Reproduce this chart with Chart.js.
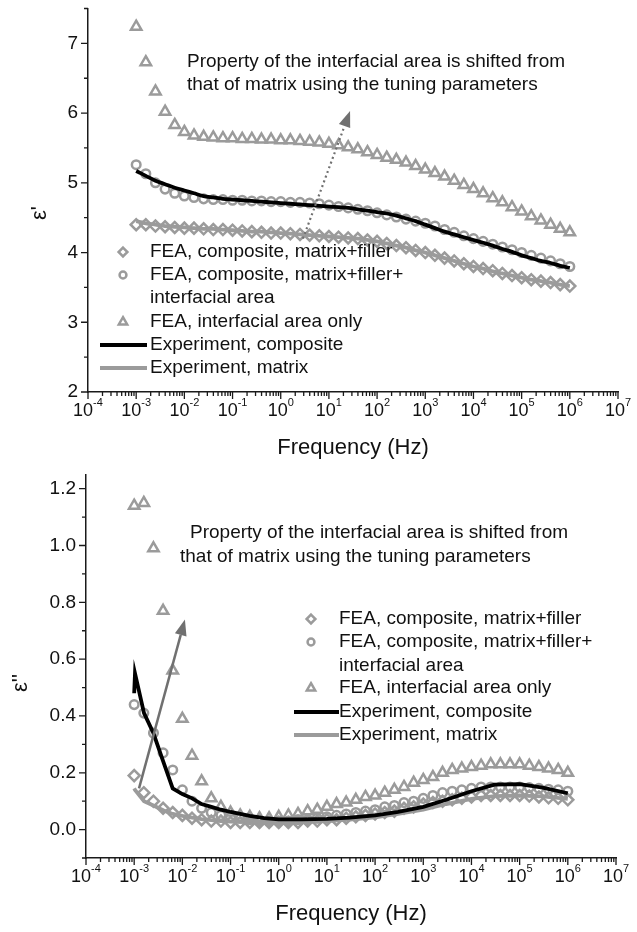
<!DOCTYPE html>
<html>
<head>
<meta charset="utf-8">
<script src="https://cdn.jsdelivr.net/npm/chart.js@4.4.1/dist/chart.umd.min.js"></script>
<style>
  body { margin: 0; background: #fff; }
  canvas { position: absolute; left: 0; }
</style>
</head>
<body>
<canvas id="realPart" width="637" height="466" style="top:0"></canvas>
<canvas id="lossPart" width="637" height="466" style="top:466px"></canvas>
<script>
// frequencies of the FEA points (Hz), five per decade
const feaFreq = [0.001, 0.001585, 0.002512, 0.003981, 0.00631, 0.01, 0.01585, 0.02512, 0.03981, 0.0631,
  0.1, 0.1585, 0.2512, 0.3981, 0.631, 1, 1.585, 2.512, 3.981, 6.31,
  10, 15.85, 25.12, 39.81, 63.1, 100, 158.5, 251.2, 398.1, 631,
  1000, 1585, 2512, 3981, 6310, 10000, 15850, 25120, 39810, 63100,
  100000, 158500, 251200, 398100, 631000, 1000000];

// epsilon' (upper panel)
const topDiamond = [4.40, 4.40, 4.38, 4.37, 4.36, 4.35, 4.35, 4.34, 4.33, 4.33,
  4.32, 4.31, 4.30, 4.29, 4.28, 4.28, 4.27, 4.26, 4.25, 4.24,
  4.23, 4.22, 4.21, 4.20, 4.18, 4.16, 4.13, 4.10, 4.07, 4.03,
  4.00, 3.96, 3.92, 3.88, 3.84, 3.80, 3.77, 3.74, 3.70, 3.67,
  3.64, 3.61, 3.59, 3.57, 3.54, 3.52];
const topCircle = [5.26, 5.13, 5.00, 4.91, 4.85, 4.81, 4.79, 4.77, 4.76, 4.76,
  4.75, 4.75, 4.74, 4.74, 4.73, 4.73, 4.72, 4.72, 4.71, 4.70,
  4.68, 4.66, 4.64, 4.62, 4.60, 4.57, 4.54, 4.51, 4.48, 4.45,
  4.42, 4.38, 4.33, 4.29, 4.24, 4.20, 4.16, 4.12, 4.08, 4.04,
  4.00, 3.96, 3.92, 3.88, 3.84, 3.80];
const topTriangle = [7.24, 6.73, 6.31, 6.02, 5.83, 5.73, 5.68, 5.66, 5.65, 5.64,
  5.64, 5.63, 5.63, 5.62, 5.62, 5.61, 5.61, 5.60, 5.59, 5.58,
  5.56, 5.54, 5.51, 5.48, 5.44, 5.40, 5.36, 5.33, 5.29, 5.24,
  5.19, 5.14, 5.09, 5.03, 4.97, 4.91, 4.85, 4.78, 4.72, 4.65,
  4.59, 4.52, 4.46, 4.40, 4.34, 4.29];
const topExpComposite = [5.17, 5.10, 5.03, 4.98, 4.93, 4.89, 4.85, 4.81, 4.79, 4.77,
  4.76, 4.75, 4.74, 4.73, 4.72, 4.71, 4.70, 4.69, 4.68, 4.67,
  4.66, 4.65, 4.64, 4.62, 4.60, 4.58, 4.56, 4.53, 4.49, 4.45,
  4.40, 4.35, 4.30, 4.26, 4.22, 4.18, 4.14, 4.10, 4.05, 4.01,
  3.96, 3.92, 3.88, 3.85, 3.81, 3.78];
const topExpMatrix = [4.45, 4.42, 4.40, 4.38, 4.37, 4.36, 4.35, 4.34, 4.34, 4.33,
  4.32, 4.31, 4.30, 4.30, 4.29, 4.28, 4.27, 4.26, 4.25, 4.24,
  4.23, 4.22, 4.21, 4.20, 4.18, 4.16, 4.13, 4.10, 4.07, 4.03,
  4.00, 3.96, 3.92, 3.88, 3.84, 3.80, 3.77, 3.73, 3.70, 3.67,
  3.64, 3.61, 3.59, 3.57, 3.54, 3.52];

// epsilon'' (lower panel)
const botDiamond = [0.19, 0.13, 0.10, 0.075, 0.06, 0.05, 0.04, 0.035, 0.03, 0.03,
  0.025, 0.025, 0.025, 0.025, 0.025, 0.025, 0.025, 0.025, 0.03, 0.03,
  0.035, 0.035, 0.04, 0.045, 0.05, 0.055, 0.06, 0.065, 0.075, 0.08,
  0.09, 0.095, 0.10, 0.105, 0.11, 0.115, 0.12, 0.12, 0.12, 0.12,
  0.12, 0.118, 0.115, 0.112, 0.11, 0.105];
const botCircle = [0.44, 0.41, 0.34, 0.27, 0.21, 0.14, 0.10, 0.075, 0.06, 0.05,
  0.045, 0.04, 0.035, 0.03, 0.03, 0.03, 0.03, 0.035, 0.035, 0.04,
  0.045, 0.05, 0.055, 0.06, 0.065, 0.07, 0.08, 0.085, 0.095, 0.10,
  0.11, 0.12, 0.13, 0.135, 0.14, 0.145, 0.15, 0.15, 0.15, 0.15,
  0.15, 0.148, 0.145, 0.142, 0.14, 0.135];
const botTriangle = [1.14, 1.15, 0.99, 0.77, 0.56, 0.39, 0.26, 0.17, 0.11, 0.08,
  0.06, 0.05, 0.045, 0.04, 0.04, 0.045, 0.05, 0.055, 0.065, 0.07,
  0.08, 0.09, 0.095, 0.105, 0.115, 0.12, 0.13, 0.14, 0.15, 0.165,
  0.175, 0.185, 0.20, 0.21, 0.215, 0.22, 0.225, 0.23, 0.23, 0.23,
  0.23, 0.225, 0.22, 0.215, 0.21, 0.20];
const botExpFreq = [0.001, 0.00104, 0.0016, 0.0025, 0.004, 0.0063, 0.01, 0.016, 0.025, 0.04,
  0.063, 0.1, 0.25, 0.5, 1, 3, 10, 30, 100, 300,
  1000, 3000, 10000, 30000, 100000, 300000, 1000000];
const botExpComposite = [0.48, 0.55, 0.41, 0.34, 0.24, 0.145, 0.125, 0.11, 0.09, 0.08,
  0.07, 0.062, 0.048, 0.04, 0.036, 0.036, 0.038, 0.042, 0.05, 0.062,
  0.08, 0.105, 0.135, 0.158, 0.16, 0.148, 0.128];
const botExpMatrix = [0.145, 0.14, 0.10, 0.085, 0.068, 0.055, 0.048, 0.042, 0.037, 0.033,
  0.03, 0.028, 0.026, 0.025, 0.025, 0.026, 0.03, 0.035, 0.043, 0.055,
  0.07, 0.09, 0.108, 0.118, 0.12, 0.117, 0.108];

// axis ticks
const xDecades = [-4, -3, -2, -1, 0, 1, 2, 3, 4, 5, 6, 7];
const topYTicks = [2, 3, 4, 5, 6, 7];
const topYMinor = [2.5, 3.5, 4.5, 5.5, 6.5, 7.5];
const botYTicks = [0.0, 0.2, 0.4, 0.6, 0.8, 1.0, 1.2];
const botYMinor = [-0.1, 0.1, 0.3, 0.5, 0.7, 0.9, 1.1];

const noteLines = ["Property of the interfacial area is shifted from",
  "that of matrix using the tuning parameters"];
const legendLabels = [["FEA, composite, matrix+filler"],
  ["FEA, composite, matrix+filler+", "interfacial area"],
  ["FEA, interfacial area only"],
  ["Experiment, composite"],
  ["Experiment, matrix"]];

const FONT = "'Liberation Sans', Arial, sans-serif";
const GREY = "#9b9b9b";
const INK = "#111";

function pts(xs, ys) {
  return xs.map((x, i) => ({ x: x, y: ys[i] }));
}

function markerPath(ctx, style, x, y, r) {
  ctx.beginPath();
  if (style === "rectRot") {
    ctx.moveTo(x, y - r); ctx.lineTo(x + r, y); ctx.lineTo(x, y + r); ctx.lineTo(x - r, y); ctx.closePath();
  } else if (style === "triangle") {
    ctx.moveTo(x, y - r); ctx.lineTo(x + r * 0.87, y + r * 0.5); ctx.lineTo(x - r * 0.87, y + r * 0.5); ctx.closePath();
  } else {
    ctx.arc(x, y, r, 0, Math.PI * 2);
  }
  ctx.stroke();
}

// ticks, tick labels, y title, note, legend and arrow
const frame = {
  id: "frame",
  afterDatasetsDraw(chart, args, o) {
    const { ctx, chartArea: a } = chart;
    const xs = chart.scales.x, ys = chart.scales.y;
    ctx.save();

    ctx.strokeStyle = "#1a1a1a";
    ctx.lineWidth = 1.3;
    ctx.beginPath();
    xDecades.forEach(k => {
      const px = xs.getPixelForValue(Math.pow(10, k));
      ctx.moveTo(px, a.bottom); ctx.lineTo(px, a.bottom + 7);
      if (k < 7) {
        for (let m = 2; m <= 9; m++) {
          const q = xs.getPixelForValue(m * Math.pow(10, k));
          ctx.moveTo(q, a.bottom); ctx.lineTo(q, a.bottom + 4);
        }
      }
    });
    o.yMajor.forEach(v => {
      const py = ys.getPixelForValue(v);
      ctx.moveTo(a.left, py); ctx.lineTo(a.left - 7, py);
    });
    o.yMinor.forEach(v => {
      const py = ys.getPixelForValue(v);
      ctx.moveTo(a.left, py); ctx.lineTo(a.left - 4, py);
    });
    ctx.stroke();

    ctx.fillStyle = INK;
    ctx.textBaseline = "middle";
    xDecades.forEach(k => {
      const px = xs.getPixelForValue(Math.pow(10, k));
      ctx.font = "18px " + FONT;
      const w1 = ctx.measureText("10").width;
      ctx.font = "11px " + FONT;
      const e = String(k);
      const w2 = ctx.measureText(e).width;
      const x0 = px - (w1 + w2) / 2;
      ctx.textAlign = "left";
      ctx.font = "18px " + FONT;
      ctx.fillText("10", x0, a.bottom + 19);
      ctx.font = "11px " + FONT;
      ctx.fillText(e, x0 + w1, a.bottom + 11);
    });
    ctx.font = "19px " + FONT;
    ctx.textAlign = "right";
    o.yMajor.forEach(v => {
      ctx.fillText(o.yFmt(v), a.left - 10, ys.getPixelForValue(v));
    });

    // y title
    ctx.save();
    ctx.translate(o.yTitle.x, o.yTitle.y);
    ctx.rotate(-Math.PI / 2);
    ctx.textAlign = "center";
    ctx.font = "22px " + FONT;
    ctx.fillText(o.yTitle.text, 0, 0);
    ctx.restore();

    // note
    ctx.textAlign = "left";
    ctx.font = "19px " + FONT;
    noteLines.forEach((t, i) => ctx.fillText(t, o.note.x[i], o.note.y[i]));

    // legend
    const L = o.legend;
    let row = 0;
    legendLabels.forEach((lines, i) => {
      const set = chart.data.datasets[L.sets[i]];
      const y = L.rows[row];
      ctx.strokeStyle = set.borderColor;
      ctx.lineWidth = set.borderWidth;
      if (set.showLine) {
        ctx.beginPath(); ctx.moveTo(L.lineX1, y); ctx.lineTo(L.lineX2, y); ctx.stroke();
      } else {
        markerPath(ctx, set.pointStyle, L.markerX, y, set.pointRadius * 0.8);
      }
      ctx.fillStyle = INK;
      lines.forEach(t => { ctx.fillText(t, L.textX, L.rows[row]); row++; });
    });

    // arrow
    const A = o.arrow;
    const x1 = xs.getPixelForValue(A.from[0]), y1 = ys.getPixelForValue(A.from[1]);
    const x2 = xs.getPixelForValue(A.to[0]), y2 = ys.getPixelForValue(A.to[1]);
    const ang = Math.atan2(y2 - y1, x2 - x1);
    const hl = 16, hw = 6;
    const bx = x2 - hl * Math.cos(ang), by = y2 - hl * Math.sin(ang);
    ctx.strokeStyle = A.color;
    ctx.fillStyle = A.color;
    ctx.lineWidth = A.width;
    ctx.setLineDash(A.dash);
    ctx.beginPath(); ctx.moveTo(x1, y1); ctx.lineTo(bx, by); ctx.stroke();
    ctx.setLineDash([]);
    ctx.beginPath();
    ctx.moveTo(x2, y2);
    ctx.lineTo(bx + hw * Math.sin(ang), by - hw * Math.cos(ang));
    ctx.lineTo(bx - hw * Math.sin(ang), by + hw * Math.cos(ang));
    ctx.closePath();
    ctx.fill();

    ctx.restore();
  }
};

function makeSets(diamond, circle, triangle, expX, comp, mat, straight) {
  return [
    { label: "Experiment, composite", data: pts(expX, comp), showLine: true, borderColor: "#000",
      borderWidth: 3.8, pointRadius: 0, tension: straight ? 0 : 0.3, order: 0 },
    { label: "FEA, interfacial area only", data: pts(feaFreq, triangle), pointStyle: "triangle",
      pointRadius: 6, borderColor: GREY, backgroundColor: "rgba(0,0,0,0)", borderWidth: 2.5, order: 1 },
    { label: "FEA, composite, matrix+filler+ interfacial area", data: pts(feaFreq, circle), pointStyle: "circle",
      pointRadius: 4.3, borderColor: GREY, backgroundColor: "rgba(0,0,0,0)", borderWidth: 2.5, order: 2 },
    { label: "FEA, composite, matrix+filler", data: pts(feaFreq, diamond), pointStyle: "rectRot",
      pointRadius: 5.5, borderColor: GREY, backgroundColor: "rgba(0,0,0,0)", borderWidth: 2.5, order: 3 },
    { label: "Experiment, matrix", data: pts(expX, mat), showLine: true, borderColor: GREY,
      borderWidth: 3.8, pointRadius: 0, tension: straight ? 0 : 0.3, order: 4 }
  ];
}

function makeChart(id, sets, cfg) {
  return new Chart(document.getElementById(id), {
    type: "scatter",
    data: { datasets: sets },
    options: {
      responsive: false,
      animation: false,
      layout: { padding: { top: cfg.top, right: cfg.right, left: 0, bottom: 0 } },
      scales: {
        x: {
          type: "logarithmic", min: 1e-4, max: 1e7,
          grid: { display: false },
          ticks: { display: false },
          border: { display: true, color: "#1a1a1a", width: 1.5 },
          title: { display: true, text: "Frequency (Hz)", color: INK,
            font: { family: FONT, size: 22 }, padding: { top: 0, bottom: 5 } },
          afterFit: s => { s.height = 74; s.paddingLeft = 0; s.paddingRight = 0; }
        },
        y: {
          min: cfg.ymin, max: cfg.ymax,
          grid: { display: false },
          ticks: { display: false },
          border: { display: true, color: "#1a1a1a", width: 1.5 },
          afterFit: s => { s.width = cfg.left; s.paddingTop = 0; s.paddingBottom = 0; }
        }
      },
      plugins: {
        legend: { display: false },
        tooltip: { enabled: false },
        frame: cfg.frame
      }
    },
    plugins: [frame]
  });
}

// legend rows map to datasets: diamond(3), circle(2), triangle(1), composite(0), matrix(4)
const legendSets = [3, 2, 1, 0, 4];

makeChart("realPart",
  makeSets(topDiamond, topCircle, topTriangle, feaFreq, topExpComposite, topExpMatrix, false),
  { top: 4, right: 19, left: 88, ymin: 2, ymax: 7.5,
    frame: {
      yMajor: topYTicks, yMinor: topYMinor, yFmt: v => String(v),
      yTitle: { text: "ε'", x: 40, y: 213 },
      note: { x: [187, 187], y: [62, 85] },
      legend: { sets: legendSets, markerX: 123, textX: 150, lineX1: 100, lineX2: 147,
        rows: [252, 275, 298, 322, 345, 368] },
      arrow: { from: [2.9, 4.2], to: [27.5, 6.03], color: "#707070", width: 2.2, dash: [2, 3] }
    } });

makeChart("lossPart",
  makeSets(botDiamond, botCircle, botTriangle, botExpFreq, botExpComposite, botExpMatrix, true),
  { top: 7, right: 21, left: 86, ymin: -0.1, ymax: 1.25,
    frame: {
      yMajor: botYTicks, yMinor: botYMinor, yFmt: v => v.toFixed(1),
      yTitle: { text: "ε''", x: 21, y: 217 },
      note: { x: [190, 180], y: [67, 91] },
      legend: { sets: legendSets, markerX: 311, textX: 339, lineX1: 294, lineX2: 339,
        rows: [153, 176, 200, 222, 246, 269] },
      arrow: { from: [0.00126, 0.145], to: [0.0113, 0.74], color: "#707070", width: 2.5, dash: [] }
    } });
</script>
</body>
</html>
